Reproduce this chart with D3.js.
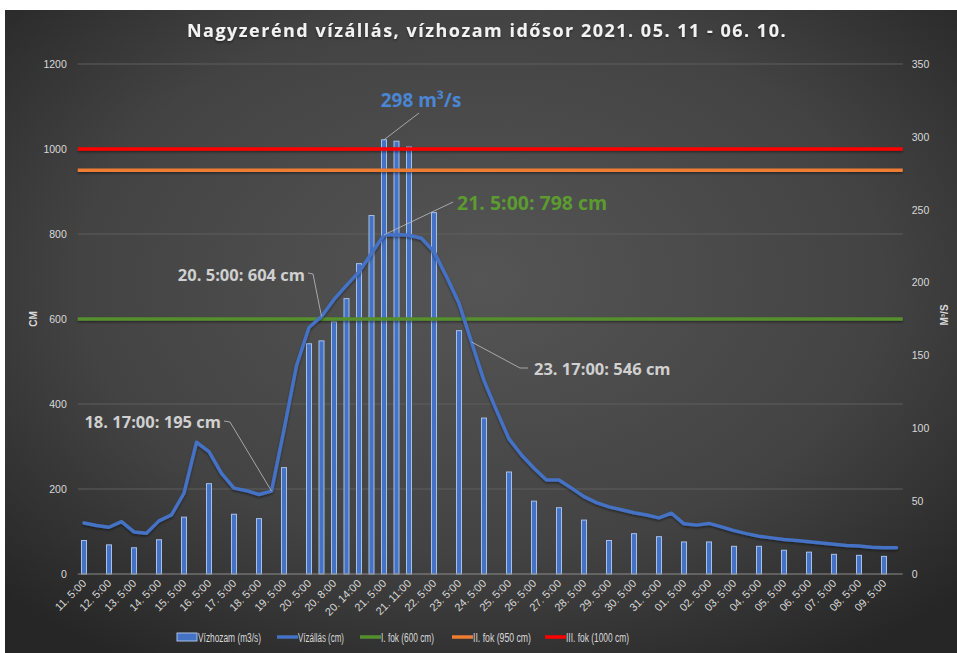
<!DOCTYPE html>
<html><head><meta charset="utf-8">
<script src="https://cdn.jsdelivr.net/npm/d3@7"></script>
<style>
html,body{margin:0;padding:0;background:#fff;}
svg{display:block;}
</style></head>
<body>
<svg id="c" width="957" height="653"></svg>
<script>
// ---------- DATA ----------
const categories = [
  "11. 5:00","11. 17:00","12. 5:00","12. 17:00","13. 5:00","13. 17:00","14. 5:00","14. 17:00",
  "15. 5:00","15. 17:00","16. 5:00","16. 17:00","17. 5:00","17. 17:00","18. 5:00","18. 17:00",
  "19. 5:00","19. 17:00",
  "20. 5:00","20. 6:00","20. 8:00","20. 11:00","20. 14:00","20. 17:00",
  "21. 5:00","21. 8:00","21. 11:00","21. 17:00",
  "22. 5:00","22. 17:00","23. 5:00","23. 17:00","24. 5:00","24. 17:00","25. 5:00","25. 17:00",
  "26. 5:00","26. 17:00","27. 5:00","27. 17:00","28. 5:00","28. 17:00","29. 5:00","29. 17:00",
  "30. 5:00","30. 17:00","31. 5:00","31. 17:00",
  "01. 5:00","01. 17:00","02. 5:00","02. 17:00","03. 5:00","03. 17:00","04. 5:00","04. 17:00",
  "05. 5:00","05. 17:00","06. 5:00","06. 17:00","07. 5:00","07. 17:00","08. 5:00","08. 17:00",
  "09. 5:00","09. 17:00"
];
// Vízállás (cm)
const waterLevel = [
  120,114,110,123,99,96,125,139,
  190,310,288,237,202,196,187,195,
  339,490,
  580,606,646,679,711,754,
  798,799,797,790,
  758,700,637,546,455,385,318,280,
  249,221,221,202,182,168,158,151,
  144,139,132,143,
  118,115,119,111,102,95,89,85,
  81,79,76,73,70,67,66,63,
  62,62
];
// Vízhozam (m3/s) — null where no measurement
const discharge = [
  23,null,20,null,18,null,23.5,null,
  39,null,62,null,41,null,38,null,
  73,null,
  158,160,173,189,213,246,
  298,297,293,null,
  248,null,167,null,107,null,70,null,
  50,null,45.5,null,37,null,23,null,
  27.7,null,25.6,null,
  22,null,22,null,19,null,19,null,
  16.3,null,15,null,13.5,null,12.8,null,
  12.1,null
];
const leftTicks = [0,200,400,600,800,1000,1200];
const rightTicks = [0,50,100,150,200,250,300,350];
const thresholds = [
  {name:"I. fok (600 cm)", value:600, color:"#548f2f"},
  {name:"II. fok (950 cm)", value:950, color:"#ed7d31"},
  {name:"III. fok (1000 cm)", value:1000, color:"#ff0000"}
];
const legendItems = ["Vízhozam (m3/s)","Vízállás (cm)","I. fok (600 cm)","II. fok (950 cm)","III. fok (1000 cm)"];
const title = "Nagyzerénd vízállás, vízhozam idősor 2021. 05. 11 - 06. 10.";

// ---------- DRAW ----------
const svg = d3.select("#c");
const defs = svg.append("defs");
const rg = defs.append("radialGradient").attr("id","bg").attr("cx","50%").attr("cy","42%").attr("r","70%");
rg.append("stop").attr("offset","0%").attr("stop-color","#555555");
rg.append("stop").attr("offset","60%").attr("stop-color","#434343");
rg.append("stop").attr("offset","100%").attr("stop-color","#262626");
const sh = defs.append("filter").attr("id","sh").attr("filterUnits","userSpaceOnUse")
  .attr("x",0).attr("y",0).attr("width",957).attr("height",653);
sh.append("feDropShadow").attr("dx",0).attr("dy",1.5).attr("stdDeviation",1.2).attr("flood-color","#000").attr("flood-opacity",0.45);

svg.append("rect").attr("x",5).attr("y",10).attr("width",952).attr("height",643).attr("fill","url(#bg)");

const x = d3.scaleBand().domain(categories).range([77.75, 902.75]);
const yL = d3.scaleLinear().domain([0,1200]).range([574,64]);
const yR = d3.scaleLinear().domain([0,350]).range([574,64]);
const cx = d => x(d) + x.bandwidth()/2;
const font = "'Liberation Sans',Arial,sans-serif";
const txtCol = "#d9d9d9";

// gridlines
svg.append("g").selectAll("line").data(leftTicks.filter(t=>t>0)).join("line")
  .attr("x1",77.75).attr("x2",902.75).attr("y1",d=>yL(d)).attr("y2",d=>yL(d))
  .attr("stroke","#5e5e5e").attr("stroke-width",1);

// left axis
const gL = svg.append("g").attr("transform","translate(77.75,0)")
  .call(d3.axisLeft(yL).tickValues(leftTicks).tickFormat(d3.format("d")).tickSize(0).tickPadding(11));
gL.select(".domain").remove();
gL.selectAll("text").attr("fill",txtCol).attr("font-size","10.5px").attr("font-family",font);
// right axis
const gR = svg.append("g").attr("transform","translate(902.75,0)")
  .call(d3.axisRight(yR).tickValues(rightTicks).tickFormat(d3.format("d")).tickSize(0).tickPadding(9));
gR.select(".domain").remove();
gR.selectAll("text").attr("fill",txtCol).attr("font-size","10.5px").attr("font-family",font);

// bars
svg.append("g").selectAll("rect").data(categories.map((c,i)=>({c,v:discharge[i]})).filter(d=>d.v!=null)).join("rect")
  .attr("x",d=>cx(d.c)-2.5).attr("width",5)
  .attr("y",d=>yR(d.v)).attr("height",d=>yR(0)-yR(d.v))
  .attr("fill","#4472c4").attr("stroke","#a8bfe8").attr("stroke-width",1);

// baseline
svg.append("line").attr("x1",77.75).attr("x2",902.75).attr("y1",574).attr("y2",574)
  .attr("stroke","#8c8c8c").attr("stroke-width",1);

// threshold lines
svg.append("g").selectAll("line").data(thresholds).join("line")
  .attr("x1",77.75).attr("x2",902.75).attr("y1",d=>yL(d.value)).attr("y2",d=>yL(d.value))
  .attr("stroke",d=>d.color).attr("stroke-width",3.5).attr("filter","url(#sh)");

// water level line
const line = d3.line().x((d,i)=>cx(categories[i])).y(d=>yL(d));
svg.append("path").datum(waterLevel).attr("d",line)
  .attr("fill","none").attr("stroke","#4472c4").attr("stroke-width",3.5)
  .attr("stroke-linejoin","round").attr("stroke-linecap","round").attr("filter","url(#sh)");

// x axis labels (every other category)
svg.append("g").selectAll("text").data(categories.filter((c,i)=>i%2===0)).join("text")
  .attr("transform",d=>`translate(${cx(d)+3},${584}) rotate(-45)`)
  .attr("text-anchor","end").attr("fill",txtCol).attr("font-size","11px").attr("font-family",font)
  .text(d=>d);

// axis titles
svg.append("text").attr("transform","translate(37,319) rotate(-90)").attr("text-anchor","middle")
  .attr("fill",txtCol).attr("font-size","10px").attr("font-weight","bold").attr("font-family",font).text("CM");
svg.append("text").attr("transform","translate(948,315) rotate(-90)").attr("text-anchor","middle")
  .attr("fill",txtCol).attr("font-size","10px").attr("font-weight","bold").attr("font-family",font).text("M³/S");

// title
svg.append("text").attr("x",487).attr("y",37).attr("text-anchor","middle")
  .attr("fill","#f2f2f2").attr("font-size","18px").attr("font-weight","bold")
  .attr("letter-spacing","1.5px").attr("font-family","'Open Sans',sans-serif").attr("filter","url(#sh)")
  .text(title);

// annotations
const annFont = "'Open Sans',sans-serif";
function ann(idx, yScale, val, text, color, size, tx, ty, anchor, path){
  svg.append("path").attr("d",path(cx(categories[idx]), yScale(val)))
    .attr("fill","none").attr("stroke","#bfbfbf").attr("stroke-width",0.8);
  svg.append("text").attr("x",tx).attr("y",ty).attr("text-anchor",anchor)
    .attr("fill",color).attr("font-size",size+"px").attr("font-weight","bold").attr("font-family",annFont)
    .text(text);
}
ann(24, yR, discharge[24], "298 m³/s", "#4a86d4", 19, 421, 107, "middle",
  (px,py)=>`M419,113 L${px},${py}`);
ann(24, yL, waterLevel[24], "21. 5:00: 798 cm", "#5b9b30", 19.5, 457, 210, "start",
  (px,py)=>`M453,202 L${px},${py}`);
ann(19, yL, waterLevel[19], "20. 5:00: 604 cm", "#d0d0d0", 16.5, 305, 281, "end",
  (px,py)=>`M308,273 L313,274 L${px},${py}`);
ann(15, yL, waterLevel[15], "18. 17:00: 195 cm", "#d0d0d0", 16.5, 221, 428, "end",
  (px,py)=>`M224,421 L230,422 L${px},${py}`);
ann(31, yL, waterLevel[31], "23. 17:00: 546 cm", "#d0d0d0", 16.5, 534, 375, "start",
  (px,py)=>`M528,368 L520,368 L${px},${py}`);

// legend
const lgX = [177,277,360,452,545];
const lgW = [63,46,53,58,63];
const lg = svg.append("g");
legendItems.forEach((name,i)=>{
  const g = lg.append("g").attr("transform",`translate(${lgX[i]},637)`);
  if(i===0){
    g.append("rect").attr("x",0).attr("y",-4).attr("width",20).attr("height",8)
      .attr("fill","#4472c4").attr("stroke","#a8bfe8").attr("stroke-width",1);
  } else {
    const col = i===1 ? "#4472c4" : thresholds[i-2].color;
    g.append("line").attr("x1",0).attr("x2",21).attr("y1",0).attr("y2",0)
      .attr("stroke",col).attr("stroke-width",3.5);
  }
  g.append("text").attr("x",21).attr("y",4.5).attr("fill",txtCol).attr("font-size","12px")
    .attr("font-family",font).attr("textLength",lgW[i]).attr("lengthAdjust","spacingAndGlyphs").text(name);
});
</script>
</body></html>
